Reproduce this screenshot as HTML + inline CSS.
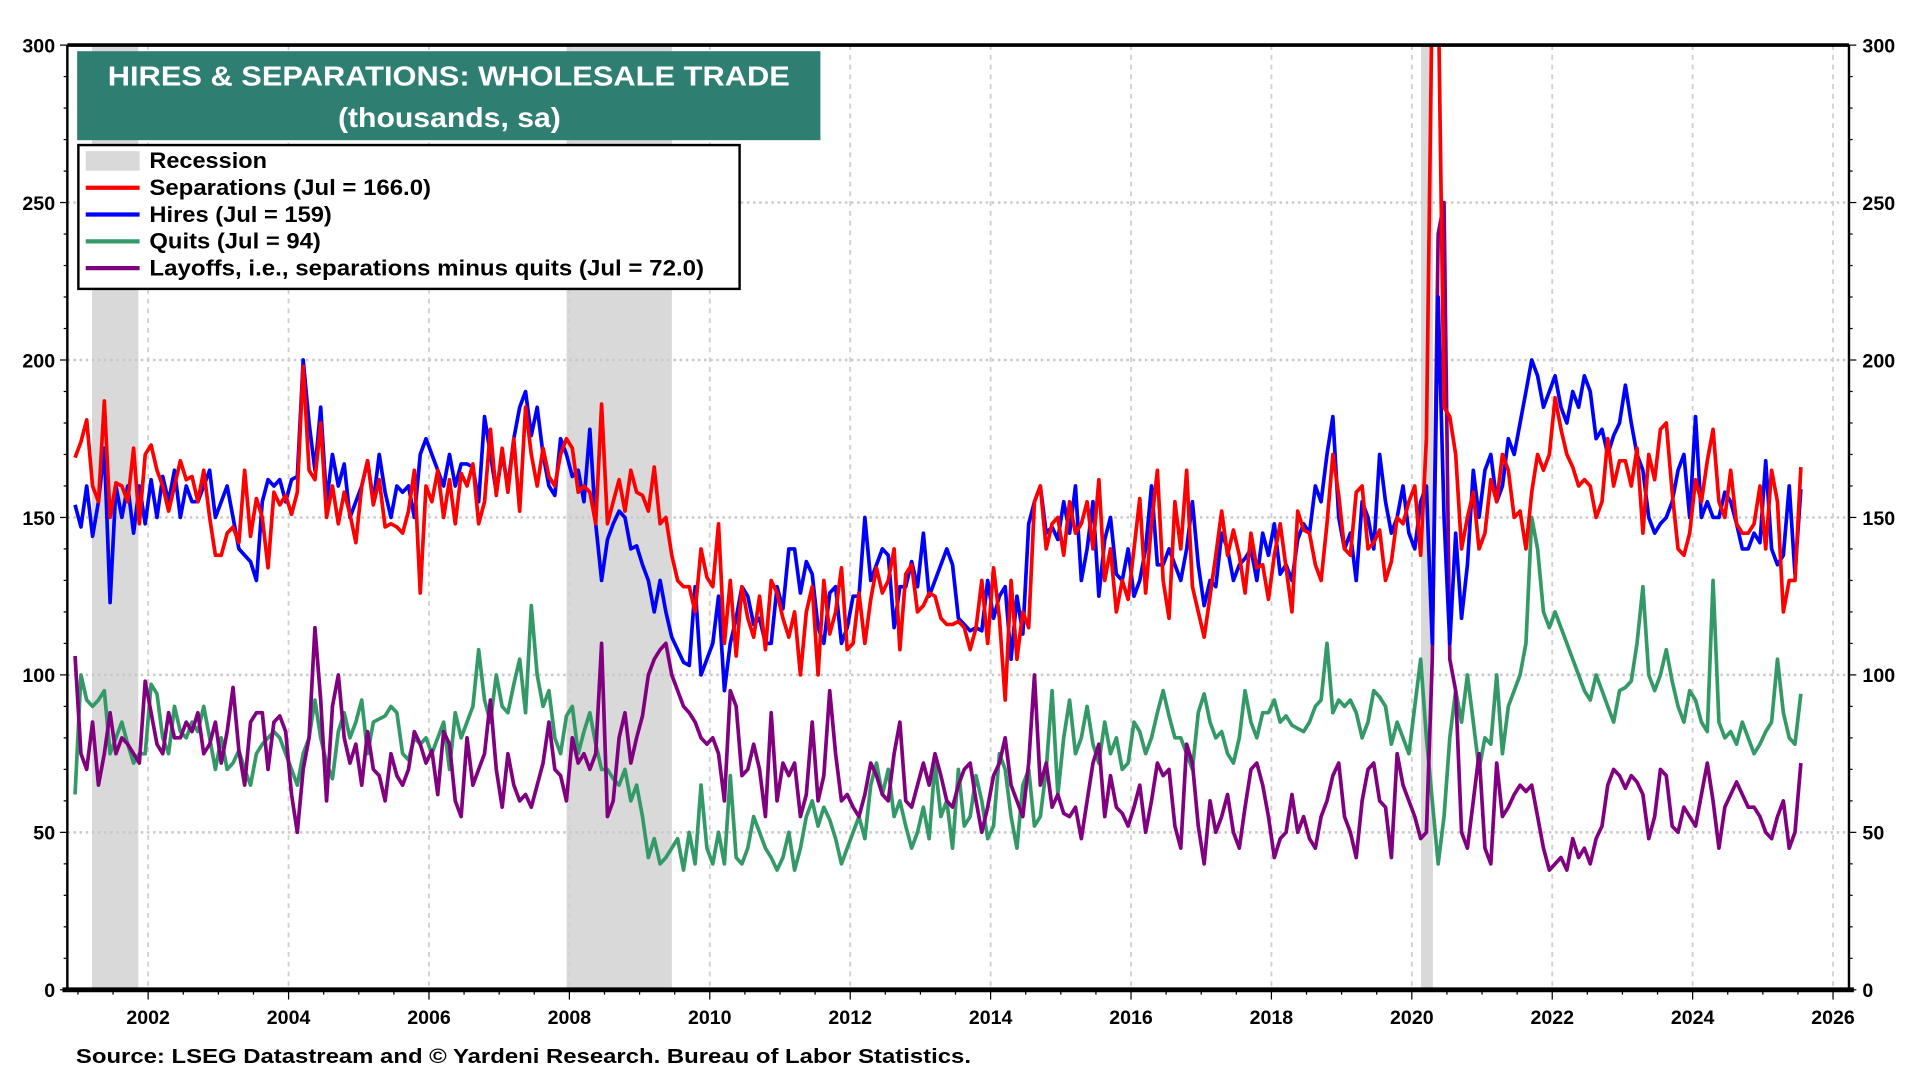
<!DOCTYPE html>
<html><head><meta charset="utf-8"><style>
html,body{margin:0;padding:0;background:#fff;}
svg{display:block;}
text{font-family:"Liberation Sans",Arial,sans-serif;font-weight:bold;}
</style></head><body>
<svg id="chart" width="1920" height="1080" viewBox="0 0 1568 886" preserveAspectRatio="none" xmlns="http://www.w3.org/2000/svg">
<defs><clipPath id="pc"><rect x="55" y="37" width="1455" height="775"/></clipPath></defs>
<g id="rec"></g>
<g id="grid"></g>
<g id="series" clip-path="url(#pc)"></g>
<g id="axes"></g>
<rect x="63" y="42" width="607" height="73" fill="#2e7f72"/>
<text x="88" y="70" fill="#fff" font-size="23" textLength="557" lengthAdjust="spacingAndGlyphs">HIRES &amp; SEPARATIONS: WHOLESALE TRADE</text>
<text x="276" y="104" fill="#fff" font-size="23" textLength="182" lengthAdjust="spacingAndGlyphs">(thousands, sa)</text>
<g>
<rect x="64" y="119" width="540" height="118" fill="#fff" stroke="#000" stroke-width="2"/>
<rect x="70" y="124" width="44" height="16" fill="#d9d9d9"/>
<text x="122" y="138" font-size="18" textLength="96" lengthAdjust="spacingAndGlyphs">Recession</text>
<line x1="70" y1="154" x2="114" y2="154" stroke="#ff0000" stroke-width="3.5"/>
<text x="122" y="160" font-size="18" textLength="230" lengthAdjust="spacingAndGlyphs">Separations (Jul = 166.0)</text>
<line x1="70" y1="176" x2="114" y2="176" stroke="#0000ff" stroke-width="3.5"/>
<text x="122" y="182" font-size="18" textLength="149" lengthAdjust="spacingAndGlyphs">Hires (Jul = 159)</text>
<line x1="70" y1="198" x2="114" y2="198" stroke="#339966" stroke-width="3.5"/>
<text x="122" y="204" font-size="18" textLength="140" lengthAdjust="spacingAndGlyphs">Quits (Jul = 94)</text>
<line x1="70" y1="220" x2="114" y2="220" stroke="#800080" stroke-width="3.5"/>
<text x="122" y="226" font-size="18" textLength="453" lengthAdjust="spacingAndGlyphs">Layoffs, i.e., separations minus quits (Jul = 72.0)</text>
</g>
<text x="62" y="872" font-size="17" textLength="731" lengthAdjust="spacingAndGlyphs">Source: LSEG Datastream and © Yardeni Research. Bureau of Labor Statistics.</text>
</svg>
<script>
const startYear = 2000, startMonth = 11; // Dec 2000
const yTicks = [0,50,100,150,200,250,300];
const xTickYears = [2002,2004,2006,2008,2010,2012,2014,2016,2018,2020,2022,2024,2026];
const recessions = [[2001.2,2001.86],[2007.96,2009.46],[2020.13,2020.3]];
const separations = [169,
174,181,160,155,187,150,161,160,155,172,148,170,
173,165,160,152,160,168,162,163,155,165,150,138,
138,145,147,142,165,144,156,150,134,158,154,157,
151,158,198,165,162,180,150,160,148,158,151,142,
160,168,154,162,147,148,147,145,152,165,126,160,
155,165,150,162,148,164,160,167,148,155,178,157,
172,158,175,152,185,170,160,172,163,160,170,175,
172,158,160,158,148,186,148,155,162,152,165,158,
157,152,166,148,150,138,130,128,128,120,140,131,
128,148,110,130,106,128,118,112,125,108,130,126,
118,112,120,100,120,128,100,130,113,120,134,108,
110,126,110,124,134,126,130,140,108,132,135,120,
122,126,125,118,116,116,117,115,108,115,130,110,
134,118,92,130,105,120,115,155,160,140,148,150,
138,155,145,148,155,140,162,130,140,120,130,124,
140,156,126,148,165,130,118,155,140,165,128,120,
112,125,138,152,138,146,138,126,145,134,135,124,
138,148,134,120,152,146,145,135,130,148,170,157,
140,138,158,160,140,142,146,130,136,150,148,155,
160,138,175,320,320,185,182,170,140,150,158,140,
145,162,155,170,165,150,152,140,158,170,165,170,
188,178,170,166,160,162,160,150,155,175,160,168,
168,160,172,145,170,162,178,180,158,140,138,145,
162,155,168,178,155,150,165,148,145,145,148,160,
140,165,155,120,130,130,166];
const hires = [154,
147,160,144,155,172,123,160,150,160,145,160,148,
162,150,163,155,165,150,160,155,155,160,165,150,
155,160,150,140,138,136,130,155,162,160,162,155,
162,163,200,180,165,185,155,170,160,167,150,155,
160,168,155,170,158,150,160,158,160,150,170,175,
170,165,160,170,160,167,167,166,155,182,170,158,
170,160,175,185,190,176,185,170,160,157,175,170,
163,165,155,178,148,130,143,148,152,150,140,141,
135,130,120,130,120,112,108,104,103,128,100,105,
110,125,95,110,118,128,125,116,118,110,110,128,
121,140,140,126,136,132,115,110,126,128,110,115,
125,125,150,130,135,140,138,115,128,128,136,128,
145,125,130,135,140,135,118,116,114,115,114,130,
118,125,128,105,125,113,148,155,160,145,147,143,
155,145,160,130,140,155,125,143,150,132,130,140,
125,130,140,160,135,135,140,135,130,140,155,135,
122,130,128,145,140,130,135,137,140,130,145,138,
148,132,135,130,143,148,145,160,155,170,182,150,
140,145,130,155,150,140,170,155,145,150,160,145,
140,155,160,110,220,150,110,145,118,135,165,150,
165,170,155,160,175,170,180,190,200,195,185,190,
195,185,180,190,185,195,190,175,178,170,176,180,
192,180,170,165,150,145,148,150,155,165,170,150,
182,150,155,150,150,158,155,148,140,140,145,142,
168,140,135,138,160,132,159];
const quits = [62,
100,92,90,92,95,75,80,85,78,72,75,75,
97,94,80,75,90,82,80,85,82,90,80,70,
80,70,72,76,70,65,75,78,80,82,80,75,
70,65,75,80,92,80,72,67,82,88,80,85,
92,75,85,86,87,90,88,75,73,80,78,80,
75,80,85,70,88,80,85,90,108,92,85,100,
90,88,97,105,88,122,100,90,95,80,75,87,
90,75,82,88,78,70,70,67,65,70,60,65,
55,42,48,40,42,45,48,38,50,40,65,45,
40,50,40,68,42,40,45,55,50,45,42,38,
42,50,38,45,55,60,52,58,54,48,40,45,
50,55,48,65,72,62,70,55,60,52,45,50,
58,48,72,55,60,45,70,52,55,68,60,48,
52,75,70,55,45,65,70,52,55,70,95,62,
80,92,75,80,90,78,72,85,75,80,70,72,
85,82,75,80,88,95,87,80,80,75,70,88,
94,85,80,82,75,72,80,95,85,80,88,88,
92,85,87,84,83,82,85,90,92,110,88,92,
90,92,88,80,85,95,93,90,78,85,80,75,
90,105,80,60,40,55,80,95,85,100,85,70,
80,78,100,75,90,95,100,110,150,140,120,115,
120,115,110,105,100,95,92,100,95,90,85,95,
96,98,110,128,100,95,100,108,98,90,85,95,
92,85,82,130,85,80,82,78,85,80,75,78,
82,85,105,88,80,78,94];
const layoffs = [106,
75,70,85,65,75,88,75,80,78,75,72,98,
88,78,75,88,80,80,85,82,88,75,78,85,
72,82,96,76,65,85,88,88,70,85,87,82,
62,50,70,80,115,92,60,90,100,80,72,78,
65,82,70,68,60,75,68,65,70,82,78,72,
76,62,82,78,60,55,80,65,70,75,92,70,
58,75,65,60,62,58,65,72,85,70,68,60,
80,72,75,70,75,110,55,60,80,88,72,80,
87,100,105,108,110,100,95,90,88,85,80,78,
80,75,60,95,90,68,70,78,70,55,88,60,
72,68,72,55,62,85,60,68,95,75,60,62,
58,55,62,72,68,62,60,75,85,60,58,65,
72,65,75,68,60,58,65,70,72,60,50,58,
68,72,80,65,60,55,72,100,65,72,58,62,
56,55,58,48,60,72,78,55,68,58,56,52,
58,65,50,60,72,68,70,52,45,78,72,52,
40,60,50,55,62,50,45,58,70,72,65,55,
42,48,50,62,50,55,48,45,55,60,68,72,
55,50,42,60,70,72,60,58,42,75,65,60,
55,48,50,105,240,250,105,95,50,45,60,75,
45,40,72,55,58,62,65,63,65,55,45,38,
40,42,38,48,42,45,40,48,52,65,70,68,
64,68,66,62,48,55,70,68,52,50,58,55,
52,62,72,60,45,58,62,66,62,58,58,55,
50,48,55,60,45,50,72];

const NS = "http://www.w3.org/2000/svg";
const X0 = 55, X1 = 1510, YT = 37, YB = 812;
function xs(t){ return 121 + (t - 2002) * 57.333; }
function ys(v){ return YB - v * (YB - YT) / 300; }
function mk(tag, attrs, parent){ const e = document.createElementNS(NS, tag); for (const k in attrs) e.setAttribute(k, attrs[k]); parent.appendChild(e); return e; }

const rec = document.getElementById('rec');
recessions.forEach(r => {
  const el = mk('rect', {x: xs(r[0]), y: YT, width: xs(r[1]) - xs(r[0]), height: YB - YT, fill: '#d9d9d9'}, rec);
  
  
});

const grid = document.getElementById('grid');
yTicks.forEach(v => {
  if (v > 0 && v < 300) {
    const g = mk('line', {x1: X0, x2: X1, y1: ys(v), y2: ys(v), stroke: '#c8c8c8', 'stroke-width': 2, 'stroke-dasharray': '2,3'}, grid);
    
    
  }
});
xTickYears.forEach(yr => {
  const g = mk('line', {x1: xs(yr), x2: xs(yr), y1: YT, y2: YB, stroke: '#d0d0d0', 'stroke-width': 1.5, 'stroke-dasharray': '4,4'}, grid);
  
  
});

const series = document.getElementById('series');
function drawLine(arr, color, name){
  const pts = arr.map((v, i) => {
    const t = startYear + (startMonth + i + 0.5) / 12;
    return xs(t).toFixed(1) + ',' + ys(v).toFixed(1);
  }).join(' ');
  const p = mk('polyline', {points: pts, fill: 'none', stroke: color, 'stroke-width': 3, 'stroke-linejoin': 'round'}, series);
  
  
}
drawLine(quits, '#339966', 'quits-line');
drawLine(layoffs, '#800080', 'layoffs-line');
drawLine(hires, '#0000ff', 'hires-line');
drawLine(separations, '#ff0000', 'separations-line');

const axes = document.getElementById('axes');
mk('line', {x1: X0, x2: X0, y1: YT, y2: YB, stroke: '#000', 'stroke-width': 2}, axes);
mk('line', {x1: X1, x2: X1, y1: YT, y2: YB, stroke: '#000', 'stroke-width': 2}, axes);
mk('line', {x1: X0, x2: X1, y1: YT, y2: YT, stroke: '#000', 'stroke-width': 3}, axes);
mk('line', {x1: X0 - 4, x2: X1 + 4, y1: YB, y2: YB, stroke: '#000', 'stroke-width': 4}, axes);
for (let v = 0; v <= 300; v += 10) {
  const len = v % 50 === 0 ? 6 : 3;
  mk('line', {x1: X0 - len, x2: X0, y1: ys(v), y2: ys(v), stroke: '#000', 'stroke-width': 1}, axes);
  mk('line', {x1: X1, x2: X1 + len, y1: ys(v), y2: ys(v), stroke: '#000', 'stroke-width': 1}, axes);
}
yTicks.forEach(v => {
  const l = mk('text', {x: 45, y: ys(v) + 6, 'text-anchor': 'end', 'font-size': 16}, axes);
  l.textContent = v;
  
  
  const r = mk('text', {x: 1521, y: ys(v) + 6, 'text-anchor': 'start', 'font-size': 16}, axes);
  r.textContent = v;
  
  
});
for (let m = 0; m < 12 * 26; m++) {
  const t = 2001 + m / 12;
  const x = xs(t);
  if (x < X0 || x > X1) continue;
  if (m % 12 === 0 || m % 12 === 6) {
    const big = (Math.round(t) % 2 === 0 && m % 12 === 0);
    mk('line', {x1: x, x2: x, y1: YB, y2: YB + (big ? 8 : 4), stroke: '#000', 'stroke-width': 1}, axes);
  }
}
xTickYears.forEach(yr => {
  const l = mk('text', {x: xs(yr), y: 840, 'text-anchor': 'middle', 'font-size': 16}, axes);
  l.textContent = yr;
  
  
});
</script>
</body></html>
